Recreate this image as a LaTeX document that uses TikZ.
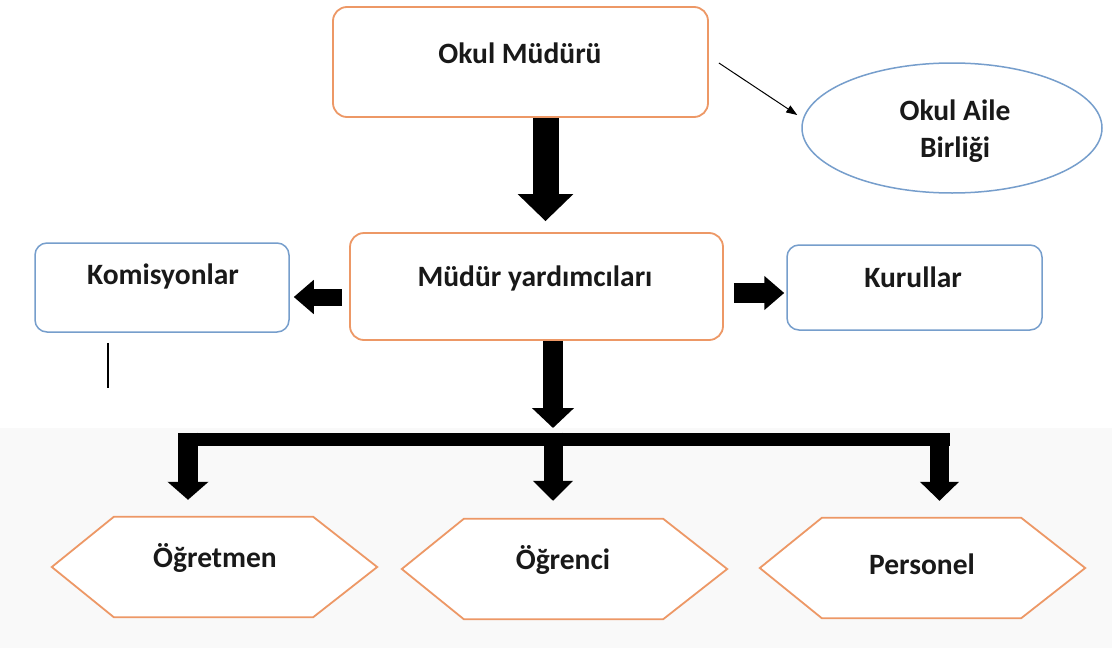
\documentclass[tikz,border=0pt]{standalone}
\usepackage{fontspec}
\setmainfont{Carlito}
\usetikzlibrary{arrows.meta,calc,shapes.geometric}
\definecolor{orangeC}{RGB}{237,152,102}
\definecolor{blueC}{RGB}{118,158,204}
\definecolor{bgC}{RGB}{249,249,249}
\tikzset{
  obox/.style={draw=orangeC, line width=1.8pt, rounded corners=14pt, fill=white, inner sep=0pt},
  bbox/.style={draw=blueC, line width=1.5pt, rounded corners=12pt, fill=white, inner sep=0pt},
  lbl/.style={font=\fontsize{29.5}{37}\selectfont\bfseries, inner sep=0pt, text=black!90},
  hexa/.style={draw=orangeC, line width=1.8pt, fill=white, line join=miter},
  hexnode/.style={minimum width=325pt, minimum height=100pt, inner sep=0pt},
  fat/.style={draw=black},
}
\begin{document}
\begin{tikzpicture}[x=1pt,y=-1pt]
\useasboundingbox (0,0) rectangle (1112,648);
\fill[white] (0,0) rectangle (1112,428);
\fill[bgC] (0,428) rectangle (1112,648);

% top
\node[obox, minimum width=375pt, minimum height=110pt] (om) at (520.5,62) {};
\node[lbl] (omt) at (520,53) {Okul Müdürü};
\node[ellipse, draw=blueC, line width=1.5pt, minimum width=300pt, minimum height=130pt, fill=white] (oab) at (952,128) {};
\node[lbl, align=center] (oabt) at (955,131) {Okul Aile\\Birliği};

% middle
\node[obox, minimum width=373pt, minimum height=107pt] (my) at (536.5,286.5) {};
\node[lbl] (myt) at (535,278) {Müdür yardımcıları};
\node[bbox, minimum width=254pt, minimum height=89pt] (kom) at (162,287.5) {};
\node[lbl] (komt) at (163,276) {Komisyonlar};
\node[bbox, minimum width=255pt, minimum height=85pt] (kur) at (914.5,287.5) {};
\node[lbl] (kurt) at (913,277) {Kurullar};

% bottom hexagons
\node[hexnode] (h1) at (214.5,567) {};
\node[hexnode] (h2) at (564.5,569) {};
\node[hexnode] (h3) at (922.5,568) {};
\foreach \h in {h1,h2,h3}{
  \draw[hexa] (\h.west) -- ($(\h.north west)+(62,0)$) -- ($(\h.north east)+(-64,0)$) -- (\h.east)
    -- ($(\h.south east)+(-64,0)$) -- ($(\h.south west)+(62,0)$) -- cycle;
}
\node[lbl] (h1t) at (215,558) {Öğretmen};
\node[lbl] (h2t) at (563,560) {Öğrenci};
\node[lbl] (h3t) at (922,564) {Personel};

% thin arrow
\draw[line width=1pt, -{Triangle[width=8pt,length=11pt]}] ($(om.east)+(10,1)$) -- ($(oab.west)+(-4,-13)$);

% big arrows
\coordinate (a1s) at ($(om.south)+(25,0)$);
\draw[fat, line width=26pt, -{Triangle[width=54pt,length=27pt]}, shorten >=11pt] (a1s) -- (a1s |- my.north);

\coordinate (bl) at (188,439);
\coordinate (bc) at (553,439);
\coordinate (br) at (939.5,439);
\coordinate (a2s) at ($(my.south)+(16.5,0)$);
\draw[fat, line width=20pt, -{Triangle[width=41pt,length=20pt]}, shorten >=11pt] (a2s) -- (a2s |- bc);

\draw[fat, line width=17pt, -{Triangle[width=33pt,length=20pt]}] ($(my.west)+(-7,10.5)$) -- ($(kom.east)+(4,9.5)$);
\draw[fat, line width=20pt, -{Triangle[width=33pt,length=20pt]}] ($(my.east)+(10,6.5)$) -- ($(kur.west)+(-2,5.5)$);

% bar
\draw[fat, line width=13pt] ($(bl)+(-10,0)$) -- ($(br)+(10,0)$);
\draw[fat, line width=20pt, -{Triangle[width=40pt,length=18pt]}, shorten >=17pt] ($(bl)+(0,-6.5)$) -- (bl |- h1.north);
\draw[fat, line width=19pt, -{Triangle[width=39pt,length=20pt]}, shorten >=18pt] ($(bc)+(0,-6.5)$) -- (bc |- h2.north);
\draw[fat, line width=19pt, -{Triangle[width=38pt,length=19pt]}, shorten >=17pt] ($(br)+(0,-6.5)$) -- (br |- h3.north);

% free line under Komisyonlar
\coordinate (ke) at (108,388);
\draw[line width=1.5pt] ($(kom.south)+(-54,10)$) -- (ke);
\end{tikzpicture}
\end{document}
